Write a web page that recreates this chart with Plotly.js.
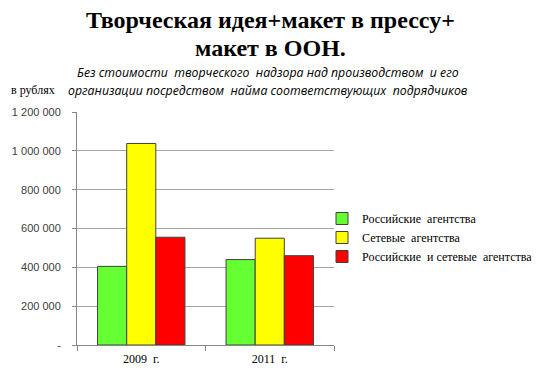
<!DOCTYPE html>
<html><head><meta charset="utf-8">
<script src="https://cdn.plot.ly/plotly-3.0.1.min.js"></script>
<style>body{margin:0;background:#fff}#c{width:542px;height:373px}</style>
</head><body><div id="c"></div>
<script>
const categories = ["2009  г.", "2011  г."];
const seriesNames = ["Российские  агентства", "Сетевые  агентства", "Российские  и сетевые  агентства"];
const russian = [405000, 440000];
const network = [1038000, 550000];
const combined = [555000, 460000];
const tickVals = [0, 200000, 400000, 600000, 800000, 1000000, 1200000];
const tickText = ["-", "200 000", "400 000", "600 000", "800 000", "1 000 000", "1 200 000"];
const titleLines = ["Творческая идея+макет в прессу+", "макет в ООН."];
const subtitleLines = ["Без стоимости  творческого  надзора над производством  и его",
  "организации посредством  найма соответствующих  подрядчиков"];
const unitLabel = "в рублях";
const colors = ["#66ff33", "#ffff00", "#ff0000"];

const SERIF = "Liberation Serif";
const values = [russian, network, combined];
const traces = values.map((v, i) => ({
  type: "bar", x: categories, y: v, name: seriesNames[i],
  marker: {color: colors[i], line: {color: "#404040", width: 1}},
  hoverinfo: "none"
}));

const px = (x) => (x - 77) / 257;
const py = (y) => (345 - y) / 233;
const layout = {
  width: 542, height: 373,
  margin: {l: 77, r: 208, t: 112, b: 28, autoexpand: false},
  paper_bgcolor: "#fff", plot_bgcolor: "#fff",
  barmode: "group", bargap: 0.32, bargroupgap: 0,
  xaxis: {type: "category", tickson: "boundaries", ticks: "outside", ticklen: 5,
    tickcolor: "#868686", showline: true, linecolor: "#868686", linewidth: 1,
    ticklabelstandoff: 3,
    showgrid: false, tickfont: {family: SERIF, size: 12, color: "#000"}},
  yaxis: {range: [0, 1200000], tickvals: tickVals, ticktext: tickText,
    showline: true, linecolor: "#868686", ticks: "outside", ticklen: 4, tickcolor: "#868686",
    ticklabelstandoff: 9,
    showgrid: true, gridcolor: "#a6a6a6", gridwidth: 1.2, zeroline: false,
    tickfont: {family: "Liberation Sans", size: 11, color: "#404040"}},
  legend: {x: px(322), xanchor: "left", y: py(204), yanchor: "top",
    bgcolor: "rgba(0,0,0,0)",
    font: {family: SERIF, size: 12, color: "#000"}, tracegroupgap: 0},
  showlegend: true,
  annotations: [
    {text: titleLines[0], xref: "paper", yref: "paper",
     x: px(270), y: py(20), xanchor: "center", yanchor: "middle",
     showarrow: false, font: {family: SERIF, size: 24, color: "#000", weight: "bold"}},
    {text: titleLines[1], xref: "paper", yref: "paper",
     x: px(270), y: py(48), xanchor: "center", yanchor: "middle",
     showarrow: false, font: {family: SERIF, size: 24, color: "#000", weight: "bold"}},
    {text: subtitleLines[0],
     xref: "paper", yref: "paper", x: px(268), y: py(73), xanchor: "center", yanchor: "middle",
     showarrow: false, font: {family: "Open Sans", size: 12.3, color: "#000", style: "italic"}},
    {text: subtitleLines[1],
     xref: "paper", yref: "paper", x: px(268), y: py(90), xanchor: "center", yanchor: "middle",
     showarrow: false, font: {family: "Open Sans", size: 12.3, color: "#000", style: "italic"}},
    {text: unitLabel, xref: "paper", yref: "paper", x: px(9), y: py(90),
     xanchor: "left", yanchor: "middle", showarrow: false,
     font: {family: SERIF, size: 12, color: "#000"}}
  ]
};
Plotly.newPlot("c", traces, layout, {displayModeBar: false, staticPlot: true});
</script></body></html>
